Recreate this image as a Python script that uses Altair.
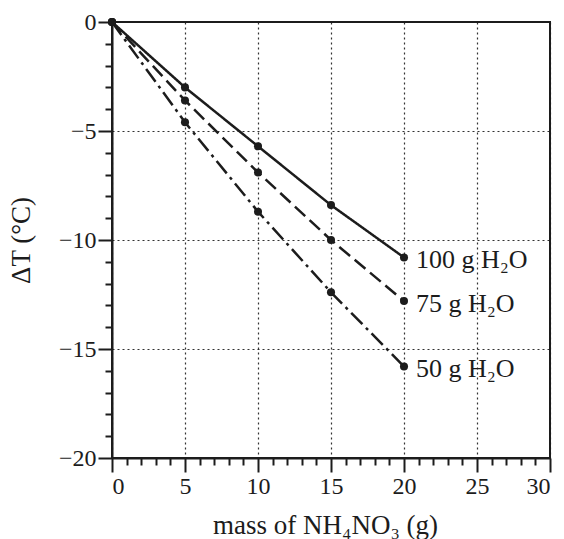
import altair as alt
import pandas as pd

mass = [0, 5, 10, 15, 20]
dT_100 = [0, -3.0, -5.7, -8.4, -10.8]
dT_75 = [0, -3.6, -6.9, -10.0, -12.8]
dT_50 = [0, -4.6, -8.7, -12.4, -15.8]
series_names = ["100 g H₂O", "75 g H₂O", "50 g H₂O"]
x_ticks = list(range(0, 31))
y_ticks = list(range(-20, 1))

rows = []
for name, vals in zip(series_names, [dT_100, dT_75, dT_50]):
    for m, v in zip(mass, vals):
        rows.append({"mass": m, "dT": v, "series": name})
df = pd.DataFrame(rows)
df_end = df[df["mass"] == 20]

FONT = "Liberation Serif"
INK = "#1c1c1c"

xs = alt.Scale(domain=[0, 30], nice=False)
ys = alt.Scale(domain=[-20, 0], nice=False)

major_test = "datum.value % 5 === 0"
tick_size = {"condition": {"test": major_test, "value": 14}, "value": 7}
grid_op = {"condition": {"test": major_test, "value": 0.9}, "value": 0}


def make_axis(vals, title, tpad, **kw):
    return alt.Axis(values=vals, tickCount=len(vals), tickSize=tick_size, tickWidth=2, tickColor=INK,
                    domainColor=INK, domainWidth=2,
                    grid=True, gridDash=[2, 3], gridColor=INK, gridWidth=1.2, gridOpacity=grid_op,
                    labelFont=FONT, labelFontSize=24, labelColor=INK, labelPadding=2,
                    labelExpr="datum.value % 5 === 0 ? replace(datum.label, '-', '−') : ''",
                    labelOverlap=False,
                    title=title, titleFont=FONT, titleFontSize=27, titleFontWeight="normal",
                    titleColor=INK, titlePadding=tpad, **kw)


dash_scale = alt.Scale(domain=series_names, range=[[1, 0], [14, 6], [16, 5, 3, 5]])

lines = alt.Chart(df).mark_line(strokeWidth=2.5, color=INK).encode(
    x=alt.X("mass:Q", scale=xs, axis=make_axis(x_ticks, "mass of NH₄NO₃ (g)", 14, titleX=213)),
    y=alt.Y("dT:Q", scale=ys, axis=make_axis(y_ticks, "ΔT (°C)", 23)),
    strokeDash=alt.StrokeDash("series:N", scale=dash_scale, legend=None),
    detail="series:N",
)

points = alt.Chart(df).mark_point(filled=True, size=65, color=INK, opacity=1).encode(
    x=alt.X("mass:Q", scale=xs),
    y=alt.Y("dT:Q", scale=ys),
)

labels = alt.Chart(df_end).mark_text(align="left", baseline="middle", dx=12, dy=3,
                                     font=FONT, fontSize=26, color=INK).encode(
    x=alt.X("mass:Q", scale=xs),
    y=alt.Y("dT:Q", scale=ys),
    text="series:N",
)

chart = alt.layer(lines, points, labels).properties(
    width=438, height=436,
    autosize=alt.AutoSizeParams(type="none"),
    padding={"left": 112, "top": 22, "right": 14, "bottom": 81},
    background="white",
).configure_view(stroke=INK, strokeWidth=2)

chart.save("out.html", embed_options={"renderer": "svg", "actions": False})
